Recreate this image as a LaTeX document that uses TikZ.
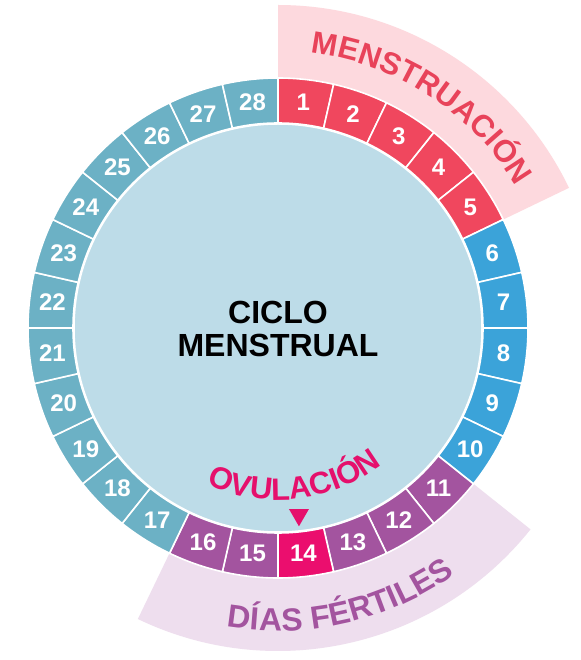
\documentclass[tikz,border=0pt]{standalone}
\usepackage{fontspec}
\setmainfont{Liberation Sans}
\usetikzlibrary{decorations.text,shapes.geometric}
\definecolor{mred}{HTML}{F0475E}
\definecolor{mblue}{HTML}{3BA3D9}
\definecolor{mteal}{HTML}{6CB1C5}
\definecolor{mpurple}{HTML}{A3549F}
\definecolor{mmag}{HTML}{EB0E6E}
\definecolor{minner}{HTML}{BDDCE8}
\definecolor{mpinkband}{HTML}{FDD9DE}
\definecolor{mlavband}{HTML}{EEDEEE}
\definecolor{mredtext}{HTML}{E8435A}
\definecolor{mpurptext}{HTML}{A3549F}
\definecolor{movtext}{HTML}{E5106C}
\begin{document}
\begin{tikzpicture}[x=1pt,y=1pt,
  daynum/.style={text=white, font=\fontsize{24}{24}\selectfont\bfseries, inner sep=0pt},
  segment/.style={draw=white, line width=1.6pt},
  arctext/.style={decorate}]
\useasboundingbox (-278,-332) rectangle (302,328);
\fill[white] (-278,-332) rectangle (302,328);
% bands
\fill[mpinkband] (90:235) -- (90:323) arc[start angle=90,end angle=25.714,radius=323] -- (25.714:235) -- cycle;
\fill[mlavband] (-38.571:235) -- (-38.571:323) arc[start angle=-38.571,end angle=-115.714,radius=323] -- (-115.714:235) -- cycle;
% ring
\foreach \i/\col in {1/mred,2/mred,3/mred,4/mred,5/mred,6/mblue,7/mblue,8/mblue,9/mblue,10/mblue,11/mpurple,12/mpurple,13/mpurple,14/mmag,15/mpurple,16/mpurple,17/mteal,18/mteal,19/mteal,20/mteal,21/mteal,22/mteal,23/mteal,24/mteal,25/mteal,26/mteal,27/mteal,28/mteal}{
  \pgfmathsetmacro\a{90-(\i-1)*360/28}
  \pgfmathsetmacro\b{90-\i*360/28}
  \pgfmathsetmacro\m{90-(\i-0.5)*360/28}
  \path[segment, fill=\col] (\a:205) -- (\a:250) arc[start angle=\a, end angle=\b, radius=250] -- (\b:205) arc[start angle=\b, end angle=\a, radius=205] -- cycle;
  \node[daynum] (d\i) at (\m:227) {\i};
}
% inner disc
\node[circle, fill=minner, draw=white, line width=1.5pt, minimum size=408pt, inner sep=0pt] (inner) at (0,0) {};
\node[font=\fontsize{32}{33}\selectfont\bfseries, align=center, text=black] (title) at (0,-1) {CICLO\\MENSTRUAL};
% arc labels
\path[arctext, decoration={text along path, text align=center, text color=mredtext,
  text={|\fontsize{31}{36}\selectfont\bfseries|MENSTRUACIÓN}}]
  (97:277) arc[start angle=97, end angle=17, radius=277];
\path[arctext, decoration={text along path, text align=center, text color=mpurptext,
  text={|\fontsize{32}{36}\selectfont\bfseries|DÍAS FÉRTILES}}]
  (-117:303) arc[start angle=-117, end angle=-37, radius=303];
\path[arctext, decoration={text along path, text align=center, text color=movtext,
  text={|\fontsize{31}{36}\selectfont\bfseries|OVULACIÓN}}]
  (-133.6:172) arc[start angle=-133.6, end angle=-33.6, radius=172];
\node[regular polygon, regular polygon sides=3, shape border rotate=180, fill=movtext, minimum size=23pt, inner sep=0pt] (tri) at (-83.6:188) {};
\end{tikzpicture}
\end{document}
